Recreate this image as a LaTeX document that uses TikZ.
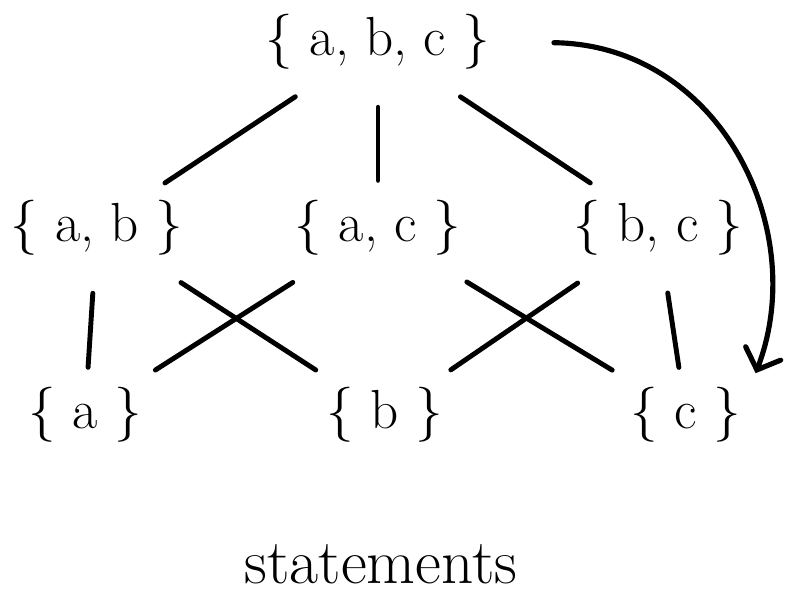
\documentclass[tikz,border=0pt]{standalone}
\usepackage{fontspec}
\usetikzlibrary{positioning}
\usetikzlibrary{arrows.meta}
\tikzstyle{set} = [font=\fontsize{47}{56}\selectfont, inner sep=12pt]
\tikzstyle{line} = [draw, line width=4.2pt, line cap=round, shorten <=20pt, shorten >=5pt]
\tikzstyle{swing} = [draw, line width=4.4pt, line cap=round, shorten <=42pt, -{Straight Barb[length=15pt, width=32pt, line cap=round]}]

\begin{document}
\begin{tikzpicture}[x=0.03cm, y=-0.03cm]
			\useasboundingbox (0,0) rectangle (792,595);
			\node [set] (abc) at (378,42) {\{ a, b, c \}};
			\node [set] (ab) at (97,228) {\{ a, b \}};
			\node [set] (ac) at (378,228) {\{ a, c \}};
			\node [set] (bc) at (658,228) {\{ b, c \}};
			\node [set] (a) at (85,415) {\{ a \}};
			\node [set] (b) at (385,415) {\{ b \}};
			\node [set] (c) at (686,415) {\{ c \}};
			\node [set, inner sep=1pt, font=\fontsize{54}{64}\selectfont] (title) at (381,564) {statements};
			\path [line] (abc) -- (ab);
			\path [line] (abc) -- (ac);
			\path [line] (abc) -- (bc);
			\path [line] (ab) -- (a);
			\path [line] (ab) -- (b);
			\path [line] (ac) -- (a);
			\path [line] (ac) -- (c);
			\path [line] (bc) -- (b);
			\path [line] (bc) -- (c);
			\path [swing] (abc.east) .. controls +(215,3) and +(55,-144) .. (c.north east);
			
			\end{tikzpicture}
\end{document}
